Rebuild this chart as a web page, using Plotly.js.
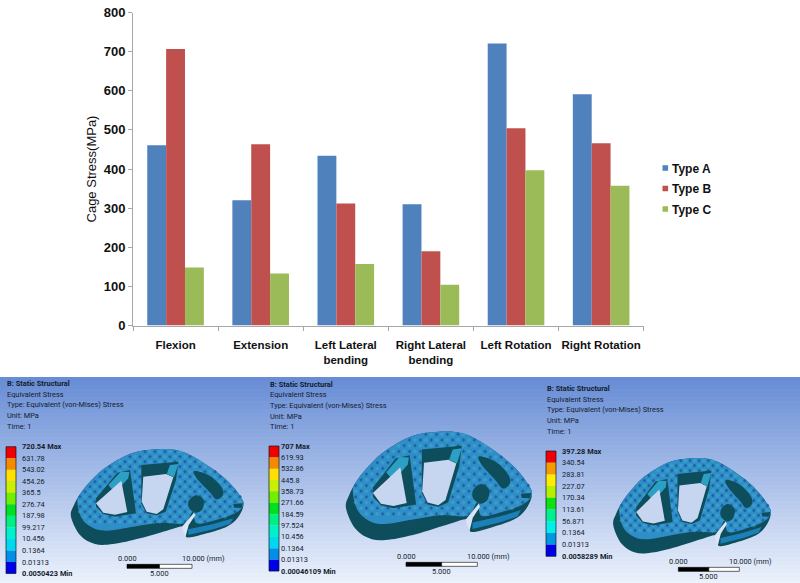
<!DOCTYPE html>
<html>
<head>
<meta charset="utf-8">
<script src="https://cdn.plot.ly/plotly-3.0.1.min.js"></script>
<style>html,body{margin:0;padding:0;background:#fff}#chart{width:800px;height:583px}</style>
</head>
<body>
<div id="chart"></div>
<script>
var categories = ["Flexion","Extension","Left Lateral<br>bending","Right Lateral<br>bending","Left Rotation","Right Rotation"];
var typeA = [461,320,434,310,720.5,591];
var typeB = [707,463,312,190,504,466];
var typeC = [148,133,157,104,397,357];
var seriesNames = ["Type A","Type B","Type C"];
var seriesColors = ["#4f81bd","#c0504d","#9bbb59"];
var yTicks = [0,100,200,300,400,500,600,700,800];

var headerLines = ["Equivalent Stress","Type: Equivalent (von-Mises) Stress","Unit: MPa","Time: 1"];
var labelsA = ["720.54 Max","631.78","543.02","454.26","365.5","276.74","187.98","99.217","10.456","0.1364","0.01313","0.0050423 Min"];
var labelsB = ["707 Max","619.93","532.86","445.8","358.73","271.66","184.59","97.524","10.456","0.1364","0.01313","0.00046109 Min"];
var labelsC = ["397.28 Max","340.54","283.81","227.07","170.34","113.61","56.871","0.1364","0.01313","0.0058289 Min"];
var ramp11 = ["#f00000","#f58a00","#ffe000","#c8f000","#70f000","#00e020","#00f080","#00f0c8","#00d8f0","#0090e8","#0000e8"];
var ramp9 = ["#f00000","#f59a00","#ffec00","#b4f000","#10e010","#00f090","#00f0e8","#0098e0","#0000e8"];

var shapes = [], notes = [];

/* background gradient of the lower picture strip */
var gradTop = [104,141,214], gradBottom = [236,242,252];
for (var g = 0; g < 52; g++) {
  var t = g / 51, yy = 377 + g * 4;
  var col = gradTop.map(function (c, i) { return Math.round(c + (gradBottom[i] - c) * t); });
  shapes.push({type:"rect", xref:"x2", yref:"y2", layer:"below", x0:0, x1:800, y0:yy, y1:yy + 4.5,
    line:{width:0}, fillcolor:"rgb(" + col.join(",") + ")"});
}

function note(x, y, text, opt) {
  opt = opt || {};
  notes.push({xref:"x2", yref:"y2", x:x, y:y, text:opt.bold ? "<b>" + text + "</b>" : text, showarrow:false,
    xanchor:opt.anchor || "left", yanchor:"middle", borderpad:0,
    font:{family:"Roboto, sans-serif", size:opt.size || 7.4, color:opt.color || "#141c2c"}});
}

/* closed path: plain polygon, or a curve running through every vertex */
function polyPath(poly, map) {
  return poly.map(map).map(function (q, i) { return (i ? "L" : "M") + q[0].toFixed(1) + "," + q[1].toFixed(1); }).join(" ") + " Z";
}
function curvePath(poly, map) {
  var p = poly.map(map), n = p.length, d = "M" + p[0][0].toFixed(1) + "," + p[0][1].toFixed(1);
  for (var i = 0; i < n; i++) {
    var a = p[(i - 1 + n) % n], b = p[i], c = p[(i + 1) % n], e = p[(i + 2) % n];
    d += " C" + (b[0] + (c[0] - a[0]) / 6).toFixed(1) + "," + (b[1] + (c[1] - a[1]) / 6).toFixed(1) + " " +
         (c[0] - (e[0] - b[0]) / 6).toFixed(1) + "," + (c[1] - (e[1] - b[1]) / 6).toFixed(1) + " " +
         c[0].toFixed(1) + "," + c[1].toFixed(1);
  }
  return d + " Z";
}
function inside(pt, poly) {
  var c = false;
  for (var i = 0, j = poly.length - 1; i < poly.length; j = i++) {
    var a = poly[i], b = poly[j];
    if ((a[1] > pt[1]) !== (b[1] > pt[1]) && pt[0] < (b[0] - a[0]) * (pt[1] - a[1]) / (b[1] - a[1]) + a[0]) c = !c;
  }
  return c;
}

/* implant outline, in one reference frame */
var bodyOutline = [[213,440],[222,405],[245,365],[280,325],[320,290],[395,250],[470,238],[540,243],[610,278],[680,330],[722,380],[730,408],[712,445],[680,470],[620,490],[560,502],[550,470],[500,482],[420,505],[340,522],[285,522],[240,495]];
var topOutline = [[232,395],[245,365],[280,325],[320,290],[395,250],[470,238],[540,243],[610,278],[680,330],[722,380],[730,405],[705,430],[640,452],[590,460],[578,425],[552,460],[480,458],[400,470],[320,482],[275,472],[245,445]];
var winLeftDark = [[288,385],[352,308],[390,300],[408,430],[345,440],[310,432],[288,410]];
var winLeftHole = [[288,400],[364,332],[382,426],[345,434],[310,428]];
var winLeftInner = [[325,345],[362,305],[388,306],[385,325],[345,368]];
var winMidDark = [[424,285],[535,275],[528,330],[497,425],[470,436],[440,430],[424,400]];
var winMidHole = [[430,320],[498,312],[520,322],[490,418],[470,432],[440,425],[425,395]];
var winMidTab = [[500,312],[510,285],[535,282],[522,322]];
var slotRight = [[583,303],[625,315],[660,345],[670,372],[650,388],[628,365],[590,325]];
var holeRound = [[568,390],[590,376],[612,392],[605,420],[585,428],[566,412]];
var cutSlit = [[582,428],[555,460],[546,470],[556,503],[566,465],[586,436]];
var notchRight = [[700,402],[728,400],[726,413],[702,413]];
var pocketLow = [[565,478],[640,462],[700,445],[690,462],[640,478],[565,495]];

function drawImplant(offX, offY, left, top, sx, sy) {
  var map = function (p) { return [offX + (left + (p[0] - 213) * sx) / 3, offY + (top + (p[1] - 238) * sy) / 3]; };
  function addCurve(poly, fill) {
    shapes.push({type:"path", xref:"x2", yref:"y2", layer:"below", path:curvePath(poly, map), line:{width:0}, fillcolor:fill});
  }
  function addPoly(poly, fill) {
    shapes.push({type:"path", xref:"x2", yref:"y2", layer:"below", path:polyPath(poly, map), line:{width:0}, fillcolor:fill});
  }
  addCurve(bodyOutline, "#0d4d5c");
  addCurve(topOutline, "#2f8dc8");
  /* textured surface: dark dimples with lighter patches between them */
  var dark = "", light = "", r = 0, holes = [winLeftDark, winMidDark, slotRight, holeRound];
  function diamond(q, w, h) {
    return "M" + (q[0] - w).toFixed(1) + "," + q[1].toFixed(1) + " L" + q[0].toFixed(1) + "," + (q[1] - h).toFixed(1) +
           " L" + (q[0] + w).toFixed(1) + "," + q[1].toFixed(1) + " L" + q[0].toFixed(1) + "," + (q[1] + h).toFixed(1) + " Z ";
  }
  for (var yy = 245; yy < 470; yy += 15, r++) {
    for (var xx = 225 + (r % 2) * 15; xx < 735; xx += 30) {
      var pt = [xx, yy], lp = [xx + 15, yy];
      if (inside(pt, topOutline) && !holes.some(function (h) { return inside(pt, h); })) dark += diamond(map(pt), 1.8, 1.9);
      if (inside(lp, topOutline) && !holes.some(function (h) { return inside(lp, h); })) light += diamond(map(lp), 2.6, 2.4);
    }
  }
  shapes.push({type:"path", xref:"x2", yref:"y2", layer:"below", path:light, line:{width:0}, fillcolor:"rgba(70,185,195,0.4)"});
  shapes.push({type:"path", xref:"x2", yref:"y2", layer:"below", path:dark, line:{width:0}, fillcolor:"#1f62a8"});
  addPoly(winLeftDark, "#0d4d5c");
  addPoly(winLeftInner, "#2ba0c4");
  addPoly(winLeftHole, "#c7d6f0");
  addPoly(winMidDark, "#0d4d5c");
  addPoly(winMidHole, "#c7d6f0");
  addPoly(winMidTab, "#2ba0c4");
  addCurve(slotRight, "#0d4d5c");
  addCurve(holeRound, "#0d4d5c");
  addPoly(cutSlit, "#dbe5f6");
  addPoly(notchRight, "#0d4d5c");
  addPoly(pocketLow, "#1c7fb8");
}

function drawPanel(p) {
  note(p.x, p.headY, "B: Static Structural", {bold:true});
  headerLines.forEach(function (s, i) { note(p.x, p.headY + (i + 1) * 10.67, s); });
  var n = p.ramp.length;
  p.ramp.forEach(function (c, i) {
    shapes.push({type:"rect", xref:"x2", yref:"y2", layer:"below", x0:p.lx, x1:p.lx + 10,
      y0:p.ly + i * p.step, y1:p.ly + (i + 1) * p.step, line:{width:0}, fillcolor:c});
  });
  shapes.push({type:"rect", xref:"x2", yref:"y2", layer:"below", x0:p.lx, x1:p.lx + 10, y0:p.ly, y1:p.ly + n * p.step,
    line:{width:0.7, color:"#10182a"}, fillcolor:"rgba(0,0,0,0)"});
  p.labels.forEach(function (s, i) {
    var edge = i === 0 || i === p.labels.length - 1;
    note(p.lx + p.gap, p.ly + i * p.step, s, {bold:edge});
  });
  drawImplant(p.ox, 370, p.left, p.top, p.sx, p.sy);
  /* scale bar */
  var bx = p.ox + p.bar[0] / 3, bw = (p.bar[1] - p.bar[0]) / 3, by = 370 + p.bar[2] / 3;
  shapes.push({type:"rect", xref:"x2", yref:"y2", layer:"below", x0:bx, x1:bx + bw / 2, y0:by, y1:by + 4, line:{width:0.6, color:"#000"}, fillcolor:"#000"});
  shapes.push({type:"rect", xref:"x2", yref:"y2", layer:"below", x0:bx + bw / 2, x1:bx + bw, y0:by, y1:by + 4, line:{width:0.6, color:"#000"}, fillcolor:"#fff"});
  note(bx, by - 6, "0.000", {anchor:"center"});
  note(bx + bw - 11, by - 6, "10.000 (mm)", {anchor:"left"});
  note(bx + bw / 2, by + 9, "5.000", {anchor:"center"});
}

drawPanel({x:6, headY:383.5, lx:6, gap:15, ly:446.7, step:11.53, ramp:ramp11, labels:labelsA, ox:0, left:213, top:238, sx:1, sy:1, bar:[381,576,583]});
drawPanel({x:269, headY:384, lx:269, gap:11, ly:446, step:11.37, ramp:ramp11, labels:labelsB, ox:265, left:243, top:185, sx:1.078, sy:1.137, bar:[423,637,577]});
drawPanel({x:546, headY:388.5, lx:546, gap:15, ly:451, step:11.7, ramp:ramp9, labels:labelsC, ox:530, left:250, top:265, sx:0.913, sy:0.996, bar:[445,628,592]});

var values = [typeA, typeB, typeC];
var traces = values.map(function (v, i) {
  return {type:"bar", x:categories, y:v, name:seriesNames[i], legendgroup:seriesNames[i],
    marker:{color:seriesColors[i], line:{width:0}}, hoverinfo:"x+y+name"};
});

var layout = {
  width:800, height:583, margin:{l:0, r:0, t:0, b:0}, autosize:false,
  paper_bgcolor:"#ffffff", plot_bgcolor:"rgba(0,0,0,0)",
  font:{family:"Liberation Sans, Arial, sans-serif", color:"#111"},
  barmode:"group", bargap:0.335, bargroupgap:0,
  showlegend:true,
  legend:{x:632 / 800, y:1 - 153.5 / 583, xanchor:"left", yanchor:"top", bgcolor:"rgba(0,0,0,0)",
    font:{size:12, weight:"bold", color:"#111"}, tracegroupgap:1.5, itemclick:false, itemdoubleclick:false},
  xaxis:{domain:[133 / 800, 643.7 / 800], anchor:"y", type:"category", tickson:"boundaries",
    ticks:"outside", ticklen:4, tickcolor:"#a8a8a8", tickwidth:1, showline:true, linecolor:"#a8a8a8", linewidth:1,
    showgrid:false, zeroline:false, tickangle:0, ticklabelstandoff:9,
    tickfont:{size:11.5, weight:"bold", color:"#111"}},
  yaxis:{domain:[1 - 325.5 / 583, 1 - 12.5 / 583], anchor:"x", range:[0, 800], tickmode:"array", tickvals:yTicks,
    ticks:"outside", ticklen:4, tickcolor:"#a8a8a8", tickwidth:1, showline:true, linecolor:"#a8a8a8", linewidth:1,
    showgrid:false, zeroline:false, tickfont:{size:13, weight:"bold", color:"#111"},
    title:{text:"Cage Stress(MPa)", standoff:4, font:{size:13, color:"#111"}}},
  xaxis2:{domain:[0, 1], range:[0, 800], anchor:"y2", visible:false, fixedrange:true},
  yaxis2:{domain:[0, 1], range:[583, 0], anchor:"x2", visible:false, fixedrange:true},
  shapes:shapes, annotations:notes
};

Plotly.newPlot("chart", traces, layout, {displayModeBar:false}).then(function () {
  document.querySelectorAll("#chart .legend .legendpoints path").forEach(function (el) {
    el.setAttribute("d", "M2.8,2.8H-2.8V-2.8H2.8Z");
    el.setAttribute("transform", "translate(33.3,0)");
  });
});
</script>
</body>
</html>
